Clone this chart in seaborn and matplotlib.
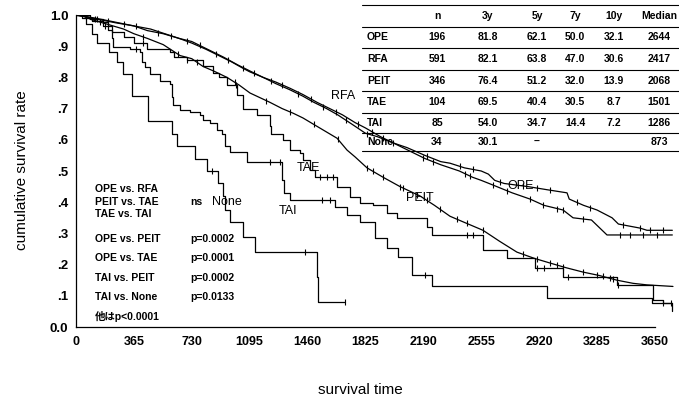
import numpy as np
import pandas as pd
import matplotlib
matplotlib.use("Agg")
import matplotlib.pyplot as plt
import seaborn as sns
from matplotlib.lines import Line2D

# ---------------- data ----------------
groups = ["OPE", "RFA", "PEIT", "TAE", "TAI", "None"]

ope_t = [0, 60, 150, 250, 365, 450, 550, 650, 730, 820, 900, 980, 1050, 1095, 1180, 1260, 1350, 1430,
         1500, 1580, 1650, 1740, 1825, 1900, 2000, 2087, 2200, 2300, 2358, 2450, 2555, 2600, 2640, 2700,
         2850, 2970, 3096, 3110, 3200, 3285, 3380, 3420, 3556, 3600, 3760]
ope_s = [1.0, 0.995, 0.985, 0.975, 0.965, 0.95, 0.94, 0.925, 0.91, 0.89, 0.87, 0.85, 0.83, 0.818, 0.80,
         0.78, 0.76, 0.74, 0.72, 0.70, 0.68, 0.65, 0.621, 0.61, 0.59, 0.575, 0.55, 0.53, 0.525, 0.51, 0.50,
         0.49, 0.47, 0.46, 0.45, 0.44, 0.43, 0.41, 0.39, 0.375, 0.35, 0.33, 0.317, 0.31, 0.31]
ope_c = [120, 300, 520, 700, 880, 1050, 1230, 1400, 1560, 1700, 1835, 1999, 2213, 2421, 2503, 2673,
         2818, 2907, 2989, 3159, 3241, 3449, 3556, 3619, 3701]

rfa_t = [0, 40, 120, 220, 365, 470, 560, 650, 730, 830, 930, 1020, 1095, 1180, 1260, 1350, 1431, 1520,
         1600, 1680, 1760, 1825, 1920, 2000, 2100, 2200, 2300, 2417, 2500, 2555, 2629, 2750, 2863, 2950,
         3071, 3134, 3250, 3348, 3760]
rfa_s = [1.0, 0.997, 0.99, 0.98, 0.965, 0.955, 0.94, 0.925, 0.915, 0.89, 0.865, 0.84, 0.821, 0.80, 0.785,
         0.765, 0.745, 0.72, 0.70, 0.68, 0.655, 0.638, 0.61, 0.59, 0.565, 0.54, 0.52, 0.50, 0.48, 0.47,
         0.455, 0.43, 0.41, 0.39, 0.375, 0.35, 0.343, 0.295, 0.295]
rfa_c = [60, 200, 380, 600, 780, 960, 1120, 1300, 1480, 1640, 1780, 1866, 1936, 2188, 2251, 2453, 2484,
         2629, 2718, 2863, 2945, 3033, 3071, 3197, 3430, 3493, 3575, 3663]

peit_t = [0, 50, 100, 200, 300, 365, 450, 550, 656, 730, 801, 870, 952, 1030, 1097, 1160, 1223, 1300,
          1370, 1431, 1530, 1646, 1709, 1760, 1835, 1936, 2043, 2169, 2260, 2358, 2450, 2566, 2670, 2780,
          2890, 2989, 3090, 3197, 3300, 3411, 3512, 3600, 3764]
peit_s = [1.0, 0.995, 0.985, 0.97, 0.955, 0.94, 0.925, 0.905, 0.87, 0.86, 0.835, 0.82, 0.80, 0.775, 0.75,
          0.735, 0.72, 0.70, 0.685, 0.67, 0.64, 0.605, 0.567, 0.545, 0.51, 0.48, 0.45, 0.42, 0.39, 0.355,
          0.335, 0.31, 0.275, 0.24, 0.22, 0.205, 0.19, 0.176, 0.165, 0.15, 0.14, 0.135, 0.13]
peit_c = [150, 420, 640, 760, 1000, 1200, 1350, 1500, 1650, 1835, 1873, 1936, 2043, 2062, 2150, 2213,
          2295, 2402, 2465, 2566, 2818, 2907, 2989, 3033, 3071, 3197, 3285, 3323, 3367, 3386]

tae_t = [0, 40, 100, 170, 230, 300, 365, 450, 590, 620, 700, 800, 865, 900, 952, 1015, 1053, 1141, 1223,
         1230, 1305, 1349, 1412, 1431, 1475, 1507, 1646, 1728, 1790, 1873, 1961, 2024, 2213, 2245, 2566,
         2717, 2894, 3071, 3411, 3640, 3700, 3760]
tae_s = [1.0, 0.99, 0.98, 0.965, 0.945, 0.93, 0.91, 0.89, 0.88, 0.865, 0.856, 0.835, 0.815, 0.80, 0.776,
         0.744, 0.70, 0.68, 0.645, 0.62, 0.60, 0.567, 0.557, 0.535, 0.503, 0.48, 0.45, 0.417, 0.397, 0.39,
         0.365, 0.35, 0.32, 0.295, 0.247, 0.22, 0.19, 0.16, 0.135, 0.087, 0.077, 0.077]
tae_c = [180, 420, 700, 1010, 1540, 1580, 1620, 2465, 2500, 2906, 2950, 3100, 3420, 3700]

tai_t = [0, 90, 170, 200, 227, 235, 340, 404, 416, 435, 466, 530, 593, 605, 612, 656, 719, 782, 801, 845,
         889, 920, 940, 971, 1078, 1298, 1310, 1350, 1633, 1709, 1790, 1885, 1961, 2031, 2118, 2245, 2970,
         3632, 3758]
tai_s = [1.0, 0.988, 0.976, 0.953, 0.926, 0.897, 0.89, 0.88, 0.85, 0.833, 0.81, 0.79, 0.78, 0.737, 0.71,
         0.695, 0.688, 0.678, 0.663, 0.655, 0.63, 0.62, 0.58, 0.56, 0.53, 0.47, 0.43, 0.407, 0.385, 0.36,
         0.337, 0.285, 0.253, 0.225, 0.167, 0.13, 0.093, 0.077, 0.05]
tai_c = [130, 380, 1223, 1286, 1551, 1600, 2200, 3750]

none_t = [0, 60, 100, 130, 205, 258, 296, 353, 454, 605, 637, 750, 826, 895, 927, 940, 971, 1053, 1129,
          1520, 1526, 1696]
none_s = [1.0, 0.97, 0.94, 0.91, 0.88, 0.85, 0.81, 0.74, 0.66, 0.62, 0.58, 0.54, 0.50, 0.46, 0.42, 0.375,
          0.335, 0.29, 0.24, 0.16, 0.08, 0.08]
none_c = [857, 1444, 1696]

# table
tbl_header = ["n", "3y", "5y", "7y", "10y", "Median"]
tbl_n = ["196", "591", "346", "104", "85", "34"]
tbl_3y = ["81.8", "82.1", "76.4", "69.5", "54.0", "30.1"]
tbl_5y = ["62.1", "63.8", "51.2", "40.4", "34.7", "\u2013"]
tbl_7y = ["50.0", "47.0", "32.0", "30.5", "14.4", ""]
tbl_10y = ["32.1", "30.6", "13.9", "8.7", "7.2", ""]
tbl_med = ["2644", "2417", "2068", "1501", "1286", "873"]

# statistics box
cmp_labels = ["OPE vs. RFA", "PEIT vs. TAE", "TAE vs. TAI", "OPE vs. PEIT", "OPE vs. TAE",
              "TAI vs. PEIT", "TAI vs. None", "他はp<0.0001"]
cmp_values = ["", "ns", "", "p=0.0002", "p=0.0001", "p=0.0002", "p=0.0133", ""]

x_ticks = [0, 365, 730, 1095, 1460, 1825, 2190, 2555, 2920, 3285, 3650]
y_ticks = [0.0, 0.1, 0.2, 0.3, 0.4, 0.5, 0.6, 0.7, 0.8, 0.9, 1.0]
y_ticklabels = ["0.0", ".1", ".2", ".3", ".4", ".5", ".6", ".7", ".8", ".9", "1.0"]

# ---------------- figure ----------------
sns.set_theme(style="white")
plt.rcParams['font.family'] = ['Liberation Sans Narrow', 'Liberation Sans', 'Noto Sans CJK JP', 'DejaVu Sans']
plt.rcParams['text.color'] = 'black'
plt.rcParams['axes.labelcolor'] = 'black'
plt.rcParams['xtick.color'] = 'black'
plt.rcParams['ytick.color'] = 'black'

W, H = 679, 405
fig = plt.figure(figsize=(W / 100, H / 100), dpi=100)
fig.patch.set_facecolor("white")


def fx(px):
    return px / W


def fy(py):
    return 1 - py / H


XMAX = 3780
ax = fig.add_axes([fx(76), fy(327), fx(76 + XMAX * 0.1586) - fx(76), fy(15) - fy(327)])
ax.set_facecolor("white")

curves = {
    "OPE": (ope_t, ope_s, ope_c, None),
    "RFA": (rfa_t, rfa_s, rfa_c, None),
    "PEIT": (peit_t, peit_s, peit_c, None),
    "TAE": (tae_t, tae_s, tae_c, "steps-post"),
    "TAI": (tai_t, tai_s, tai_c, "steps-post"),
    "None": (none_t, none_s, none_c, "steps-post"),
}

for g in groups:
    t, s, c, ds = curves[g]
    df = pd.DataFrame({"time": t, "surv": s})
    kw = dict(drawstyle=ds) if ds else {}
    sns.lineplot(data=df, x="time", y="surv", ax=ax, color="black", lw=0.9,
                 estimator=None, sort=False, legend=False, **kw)
    ta = np.asarray(t)
    sa = np.asarray(s)
    c = np.asarray(c)
    if ds:
        cy = sa[np.searchsorted(ta, c, side="right") - 1]
    else:
        cy = np.interp(c, ta, sa)
    ax.plot(c, cy, linestyle="none", marker="|", ms=5, mew=0.8, color="black")

ax.set_xlim(0, XMAX)
ax.set_ylim(0, 1.0)
ax.set_xticks(x_ticks)
ax.set_xticklabels([str(v) for v in x_ticks], fontsize=9, fontweight="bold")
ax.set_yticks(y_ticks)
ax.set_yticklabels(y_ticklabels, fontsize=9.5, fontweight="bold")
ax.tick_params(axis="both", direction="inout", length=5, width=0.8, color="black", pad=4)
ax.tick_params(axis="y", pad=3)
for sp in ["top", "right"]:
    ax.spines[sp].set_visible(False)
for sp in ["left", "bottom"]:
    ax.spines[sp].set_color("black")
    ax.spines[sp].set_linewidth(0.9)
ax.spines["bottom"].set_bounds(0, 3650)
ax.set_xlabel("")
ax.set_ylabel("")

fig.text(fx(22), fy(170), "cumulative survival rate", rotation=90, ha="center", va="center",
         fontsize=11, family=["Liberation Sans", "DejaVu Sans"], color="black")
fig.text(fx(360), fy(390), "survival time", ha="center", va="center",
         fontsize=11, family=["Liberation Sans", "DejaVu Sans"], color="black")

# curve labels
lab_kw = dict(fontsize=9, family=["Liberation Sans", "DejaVu Sans"], ha="center", va="center",
              color="black")
ax.text(1683, 0.740, "RFA", **lab_kw)
ax.text(1463, 0.51, "TAE", **lab_kw)
ax.text(952, 0.40, "None", **lab_kw)
ax.text(1337, 0.372, "TAI", **lab_kw)
ax.text(2169, 0.413, "PEIT", **lab_kw)
ax.text(2800, 0.452, "OPE", **lab_kw)

# statistics box
ys = [189, 202, 214, 239, 258, 278, 297, 316]
for lbl, val, y in zip(cmp_labels, cmp_values, ys):
    fig.text(fx(95), fy(y), lbl, ha="left", va="center", fontsize=7.5, fontweight="bold", color="black")
    if val:
        fig.text(fx(190), fy(y), val, ha="left", va="center", fontsize=7.5, fontweight="bold",
                 color="black")

# table
row_y = [37, 59, 81, 102, 123, 142]
line_y = [5, 27, 48, 70, 91, 113, 133, 151]
for y in line_y:
    fig.add_artist(Line2D([fx(362), fx(679)], [fy(y), fy(y)], color="black", lw=0.8))
col_x = [437, 488, 537, 575, 614, 659]
for hx, h in zip(col_x, tbl_header):
    fig.text(fx(hx), fy(16), h, ha="center", va="center", fontsize=7.5, fontweight="bold", color="black")
cols = [tbl_n, tbl_3y, tbl_5y, tbl_7y, tbl_10y, tbl_med]
for i, g in enumerate(groups):
    fig.text(fx(367), fy(row_y[i]), g, ha="left", va="center", fontsize=7.5, fontweight="bold",
             color="black")
    for cx, col in zip(col_x, cols):
        if col[i]:
            fig.text(fx(cx), fy(row_y[i]), col[i], ha="center", va="center", fontsize=7.5,
                     fontweight="bold", color="black")

fig.savefig("out.png", dpi=100, facecolor="white")
